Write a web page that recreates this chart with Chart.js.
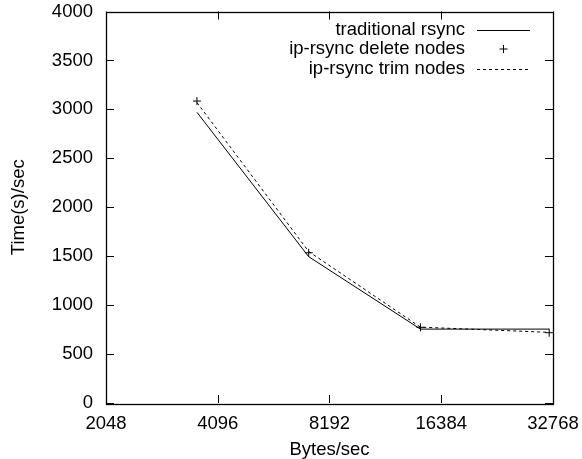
<!DOCTYPE html>
<html>
<head>
<meta charset="utf-8">
<script src="https://cdn.jsdelivr.net/npm/chart.js@4"></script>
<style>
  html, body { margin: 0; padding: 0; background: #fff; }
  #wrap { width: 582px; height: 459px; }
</style>
</head>
<body>
<div id="wrap"><canvas id="c" width="582" height="459"></canvas></div>
<script>
// ---- data ----
const bytesPerSec = [3600, 7200, 14400, 32000];
const traditionalRsync = [2970, 1495, 755, 755];
const deleteNodes = [3085, 1535, 773, 718];
const trimNodes = [3070, 1548, 775, 722];
const xTickValues = [2048, 4096, 8192, 16384, 32768];
const yTickValues = [0, 500, 1000, 1500, 2000, 2500, 3000, 3500, 4000];
const seriesLabels = ['traditional rsync', 'ip-rsync delete nodes', 'ip-rsync trim nodes'];

const FONT = '"Liberation Sans", Arial, Helvetica, sans-serif';
const FS = 18.5;

function pts(ys) { return bytesPerSec.map((x, i) => ({ x: x, y: ys[i] })); }

const frame = {
  id: 'frame',
  afterDatasetsDraw(chart) {
    const ctx = chart.ctx, a = chart.chartArea;
    const xs = chart.scales.x, ys = chart.scales.y;
    const L = 8;
    ctx.save();
    ctx.strokeStyle = '#000';
    ctx.lineWidth = 1;
    ctx.beginPath();
    xTickValues.forEach(v => {
      const px = Math.round(xs.getPixelForValue(v)) + 0.5;
      ctx.moveTo(px, a.bottom); ctx.lineTo(px, a.bottom - L);
      ctx.moveTo(px, a.top); ctx.lineTo(px, a.top + L);
    });
    yTickValues.forEach(v => {
      const py = Math.round(ys.getPixelForValue(v)) + 0.5;
      ctx.moveTo(a.left, py); ctx.lineTo(a.left + L, py);
      ctx.moveTo(a.right, py); ctx.lineTo(a.right - L, py);
    });
    ctx.stroke();
    ctx.lineWidth = 1.3;
    ctx.strokeRect(Math.round(a.left) + 0.5, Math.round(a.top) + 0.5,
                   Math.round(a.right - a.left), Math.round(a.bottom - a.top));

    // legend (gnuplot style: right-aligned text, sample on the right)
    const textRight = 465, sx0 = 477, sx1 = 530, rows = [29.5, 49, 68.5];
    ctx.font = FS + 'px ' + FONT;
    ctx.fillStyle = '#000';
    ctx.textAlign = 'right';
    ctx.textBaseline = 'middle';
    chart.data.datasets.forEach((ds, i) => {
      const y = rows[i];
      ctx.fillText(ds.label, textRight, y);
      ctx.save();
      ctx.lineWidth = 1;
      ctx.strokeStyle = '#000';
      if (ds.showLine === false) {
        const cx = (sx0 + sx1) / 2, r = ds.pointRadius;
        ctx.beginPath();
        ctx.moveTo(cx - r, y); ctx.lineTo(cx + r, y);
        ctx.moveTo(cx, y - r); ctx.lineTo(cx, y + r);
        ctx.stroke();
      } else {
        ctx.setLineDash(ds.borderDash || []);
        ctx.beginPath();
        ctx.moveTo(sx0, Math.round(y) + 0.5); ctx.lineTo(sx1, Math.round(y) + 0.5);
        ctx.stroke();
      }
      ctx.restore();
    });
    ctx.restore();
  }
};

new Chart(document.getElementById('c'), {
  type: 'scatter',
  data: {
    datasets: [
      { label: seriesLabels[0], data: pts(traditionalRsync), showLine: true,
        borderColor: '#000', borderWidth: 1, pointRadius: 0, fill: false, tension: 0 },
      { label: seriesLabels[1], data: pts(deleteNodes), showLine: false,
        pointStyle: 'cross', pointRadius: 4, pointBorderWidth: 1,
        borderColor: '#000', backgroundColor: '#000' },
      { label: seriesLabels[2], data: pts(trimNodes), showLine: true,
        borderColor: '#000', borderWidth: 1, borderDash: [3, 3], pointRadius: 0, fill: false, tension: 0 }
    ]
  },
  options: {
    responsive: false,
    animation: false,
    events: [],
    layout: { padding: { top: 11.5, right: 29, left: 0, bottom: 0 } },
    plugins: { legend: { display: false }, tooltip: { enabled: false } },
    scales: {
      x: {
        type: 'logarithmic',
        min: 2048, max: 32768,
        afterBuildTicks(scale) { scale.ticks = xTickValues.map(v => ({ value: v })); },
        afterFit(scale) {
          scale.height = 56;
          scale.paddingLeft = 0; scale.paddingRight = 0;
          scale.paddingTop = 0; scale.paddingBottom = 0;
        },
        grid: { display: false, drawTicks: false },
        border: { display: false },
        ticks: {
          color: '#000', font: { family: FONT, size: FS }, padding: 10,
          maxRotation: 0, autoSkip: false,
          callback: (v) => String(v)
        },
        title: { display: true, text: 'Bytes/sec', color: '#000',
                 font: { family: FONT, size: FS }, padding: { top: 2, bottom: -2 } }
      },
      y: {
        type: 'linear',
        min: 0, max: 4000,
        afterBuildTicks(scale) { scale.ticks = yTickValues.map(v => ({ value: v })); },
        afterFit(scale) {
          scale.width = 106;
          scale.paddingLeft = 0; scale.paddingRight = 0;
          scale.paddingTop = 0; scale.paddingBottom = 0;
        },
        grid: { display: false, drawTicks: false },
        border: { display: false },
        ticks: { color: '#000', font: { family: FONT, size: FS }, padding: 13,
                 callback: (v) => String(v) },
        title: { display: true, text: 'Time(s)/sec', color: '#000',
                 font: { family: FONT, size: FS }, padding: { top: 8, bottom: 0 } }
      }
    }
  },
  plugins: [frame]
});
</script>
</body>
</html>
